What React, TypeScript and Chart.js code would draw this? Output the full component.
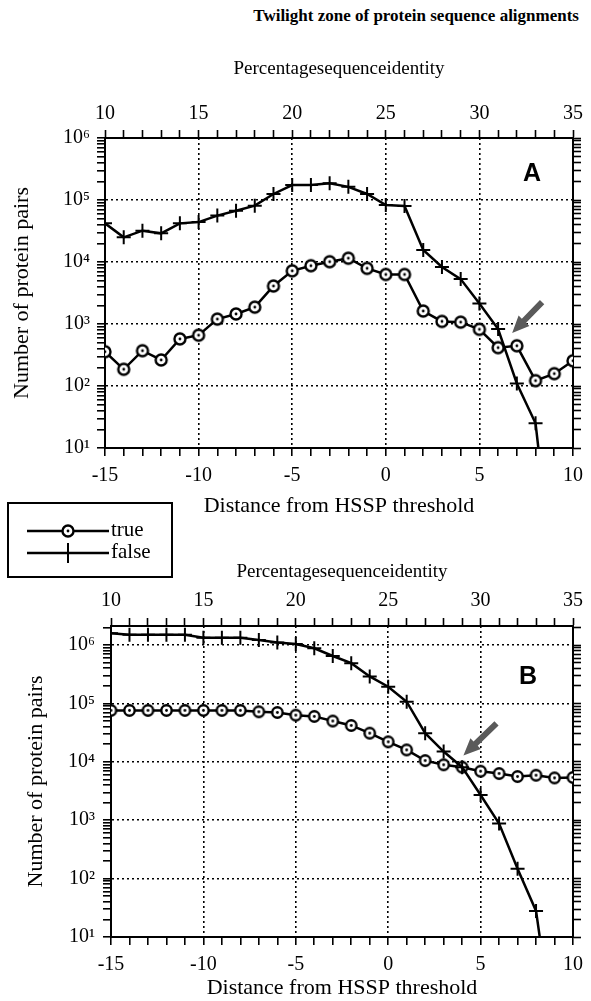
import React, { useEffect, useRef } from "react";
import { Chart, registerables } from "chart.js";

Chart.register(...registerables);

// ---------- data ----------
const distance = [-15, -14, -13, -12, -11, -10, -9, -8, -7, -6, -5, -4, -3, -2, -1, 0, 1, 2, 3, 4, 5, 6, 7, 8, 9, 10];

const trueA = [357, 186, 371, 263, 575, 660, 1200, 1450, 1870, 4100, 7200, 8700, 10100, 11500, 7900, 6300, 6300, 1620, 1100, 1070, 820, 415, 445, 122, 158, 255];
const falseDistA = [-15, -14, -13, -12, -11, -10, -9, -8, -7, -6, -5, -4, -3, -2, -1, 0, 1, 2, 3, 4, 5, 6, 7, 8, 8.15];
const falseA = [42000, 25000, 32000, 29000, 42000, 44000, 56000, 67000, 81000, 125000, 174000, 174000, 186000, 163000, 125000, 83000, 80000, 15600, 8300, 5300, 2150, 830, 110, 25, 10];

const trueB = [76000, 76000, 76000, 76000, 76000, 76000, 76000, 76000, 72000, 70000, 63000, 60000, 50000, 42000, 31000, 22000, 16000, 10500, 8900, 8100, 6900, 6300, 5600, 5900, 5300, 5400];
const falseDistB = [-15, -14, -13, -12, -11, -10, -9, -8, -7, -6, -5, -4, -3, -2, -1, 0, 1, 2, 3, 4, 5, 6, 7, 8, 8.2];
const falseB = [1600000, 1500000, 1500000, 1500000, 1500000, 1330000, 1330000, 1330000, 1220000, 1110000, 1040000, 880000, 650000, 490000, 290000, 193000, 107000, 31000, 15000, 8100, 2700, 880, 148, 28, 10];

const bottomTickLabels = [-15, -10, -5, 0, 5, 10];
const topTickLabels = [10, 15, 20, 25, 30, 35];
const yTickLabels = ["10¹", "10²", "10³", "10⁴", "10⁵", "10⁶"];
const seriesNames = ["true", "false"];

const mainTitle = "Twilight zone of protein sequence alignments";
const topAxisTitle = "Percentagesequenceidentity";
const bottomAxisTitle = "Distance from HSSP threshold";
const yAxisTitle = "Number of protein pairs";

const FONT = "Liberation Serif, Times New Roman, DejaVu Serif, serif";

function isMajorLog(v: number) {
  const e = Math.log10(v);
  return Math.abs(e - Math.round(e)) < 1e-6;
}
function yLabel(v: number) {
  if (!isMajorLog(v)) return "";
  const e = Math.round(Math.log10(v));
  return yTickLabels[e - 1] || "";
}
function logTicks(max: number) {
  const out: number[] = [];
  for (let e = 1; e <= 6; e++) {
    for (let s = 1; s <= 9; s++) {
      const v = s * Math.pow(10, e);
      if (v <= max + 1e-6) out.push(v);
    }
  }
  return out;
}

function makeCircle(r: number, lw: number) {
  const size = Math.ceil(2 * r + lw + 2);
  const c = document.createElement("canvas");
  c.width = size;
  c.height = size;
  const g = c.getContext("2d")!;
  g.beginPath();
  g.arc(size / 2, size / 2, r, 0, Math.PI * 2);
  g.fillStyle = "#fff";
  g.fill();
  g.lineWidth = lw;
  g.strokeStyle = "#000";
  g.stroke();
  g.beginPath();
  g.arc(size / 2, size / 2, 1.4, 0, Math.PI * 2);
  g.fillStyle = "#000";
  g.fill();
  return c;
}

type PanelCfg = {
  top: number;
  canvasH: number;
  trueY: number[];
  falseX: number[];
  falseY: number[];
  yMax: number;
  padding: { left: number; right: number; top: number; bottom: number };
  yWidth: number;
  yTitlePad: number;
  yTickPad: number;
  rightWidth: number;
  x2Height: number;
  x2TitlePad: number;
  x2TickPad: number;
  xHeight: number;
  xTickPad: number;
  circleR: number;
  letter: string;
  letterDX: number;
  letterDY: number;
  arrowTail: [number, number];
  arrowHead: [number, number];
  legend: boolean;
};

const panelA: PanelCfg = {
  top: 0,
  canvasH: 585,
  trueY: trueA,
  falseX: falseDistA,
  falseY: falseA,
  yMax: 1000000,
  padding: { left: 0, right: 0, top: 0, bottom: 66 },
  yWidth: 105,
  yTitlePad: 9,
  yTickPad: 7,
  rightWidth: 16,
  x2Height: 138,
  x2TitlePad: 58,
  x2TickPad: 4,
  xHeight: 71,
  xTickPad: 8,
  circleR: 5.5,
  letter: "A",
  letterDX: -41,
  letterDY: 36,
  arrowTail: [8.35, 2260],
  arrowHead: [6.75, 716],
  legend: true,
};

const panelB: PanelCfg = {
  top: 540,
  canvasH: 461,
  trueY: trueB,
  falseX: falseDistB,
  falseY: falseB,
  yMax: 2120000,
  padding: { left: 6, right: 0, top: 0, bottom: 0 },
  yWidth: 105,
  yTitlePad: 17,
  yTickPad: 8,
  rightWidth: 12,
  x2Height: 86,
  x2TitlePad: 21,
  x2TickPad: 5,
  xHeight: 64,
  xTickPad: 8,
  circleR: 5.2,
  letter: "B",
  letterDX: -45,
  letterDY: 51,
  arrowTail: [5.86, 45700],
  arrowHead: [4.07, 12900],
  legend: false,
};

function drawArrow(ctx: CanvasRenderingContext2D, tx: number, ty: number, hx: number, hy: number) {
  const dx = hx - tx;
  const dy = hy - ty;
  const len = Math.hypot(dx, dy);
  const ux = dx / len;
  const uy = dy / len;
  const nx = -uy;
  const ny = ux;
  const headLen = 17;
  const headW = 15;
  const shaftW = 6;
  const bx = hx - ux * headLen;
  const by = hy - uy * headLen;
  ctx.save();
  ctx.fillStyle = "#5a5a5a";
  ctx.beginPath();
  ctx.moveTo(tx + nx * shaftW / 2, ty + ny * shaftW / 2);
  ctx.lineTo(bx + nx * shaftW / 2, by + ny * shaftW / 2);
  ctx.lineTo(bx + nx * headW / 2, by + ny * headW / 2);
  ctx.lineTo(hx, hy);
  ctx.lineTo(bx - nx * headW / 2, by - ny * headW / 2);
  ctx.lineTo(bx - nx * shaftW / 2, by - ny * shaftW / 2);
  ctx.lineTo(tx - nx * shaftW / 2, ty - ny * shaftW / 2);
  ctx.closePath();
  ctx.fill();
  ctx.restore();
}

function buildConfig(p: PanelCfg): any {
  const circle = makeCircle(p.circleR, 2.4);
  const legendCircle = makeCircle(5.5, 2.4);
  const lastFalse = p.falseX.length - 1;

  const overlay = {
    id: "overlay" + p.letter,
    afterDraw(chart: any) {
      const ctx: CanvasRenderingContext2D = chart.ctx;
      const area = chart.chartArea;
      const xs = chart.scales.x;
      const ys = chart.scales.y;
      ctx.save();
      ctx.fillStyle = "#000";
      ctx.font = "bold 25px Liberation Sans, Arial, sans-serif";
      ctx.textAlign = "center";
      ctx.textBaseline = "middle";
      ctx.fillText(p.letter, area.right + p.letterDX, area.top + p.letterDY);
      ctx.restore();
      drawArrow(
        ctx,
        xs.getPixelForValue(p.arrowTail[0]),
        ys.getPixelForValue(p.arrowTail[1]),
        xs.getPixelForValue(p.arrowHead[0]),
        ys.getPixelForValue(p.arrowHead[1])
      );
      if (p.legend) {
        ctx.save();
        ctx.strokeStyle = "#000";
        ctx.lineWidth = 2;
        ctx.strokeRect(8, 503, 164, 74);
        ctx.lineWidth = 2.5;
        ctx.beginPath();
        ctx.moveTo(27, 531);
        ctx.lineTo(109, 531);
        ctx.stroke();
        ctx.drawImage(legendCircle, 68 - legendCircle.width / 2, 531 - legendCircle.height / 2);
        ctx.beginPath();
        ctx.moveTo(27, 553);
        ctx.lineTo(109, 553);
        ctx.stroke();
        ctx.lineWidth = 2;
        ctx.beginPath();
        ctx.moveTo(68, 543);
        ctx.lineTo(68, 563);
        ctx.stroke();
        ctx.fillStyle = "#000";
        ctx.font = "21px " + FONT;
        ctx.textAlign = "left";
        ctx.textBaseline = "middle";
        ctx.fillText(seriesNames[0], 111, 530);
        ctx.fillText(seriesNames[1], 111, 552);
        ctx.restore();
      }
    },
  };

  const tickFont = { family: FONT, size: 20 };
  const titleFont = { family: FONT, size: 22 };
  const logTickList = logTicks(p.yMax);

  return {
    type: "line",
    data: {
      datasets: [
        {
          label: seriesNames[0],
          data: distance.map((x, i) => ({ x, y: p.trueY[i] })),
          borderColor: "#000",
          borderWidth: 2.5,
          pointStyle: circle,
          pointRadius: p.circleR + 1,
          tension: 0,
          order: 1,
          xAxisID: "x",
          yAxisID: "y",
        },
        {
          label: seriesNames[1],
          data: p.falseX.map((x, i) => ({ x, y: p.falseY[i] })),
          borderColor: "#000",
          borderWidth: 2.5,
          pointStyle: "cross",
          pointRadius: (c: any) => (c.dataIndex === lastFalse ? 0 : 7),
          pointBorderWidth: 2,
          pointBorderColor: "#000",
          tension: 0,
          order: 0,
          xAxisID: "x",
          yAxisID: "y",
        },
      ],
    },
    options: {
      responsive: false,
      animation: false,
      events: [],
      font: { family: FONT },
      layout: { padding: p.padding },
      plugins: {
        legend: { display: false },
        tooltip: { enabled: false },
        title: { display: false },
      },
      scales: {
        x: {
          type: "linear",
          position: "bottom",
          min: -15,
          max: 10,
          afterFit: (s: any) => {
            s.height = p.xHeight;
          },
          ticks: {
            stepSize: 1,
            autoSkip: false,
            maxRotation: 0,
            padding: p.xTickPad,
            font: tickFont,
            color: "#000",
            callback: (v: any) => (bottomTickLabels.includes(Number(v)) ? String(v) : ""),
          },
          grid: {
            color: (c: any) => (c.tick && bottomTickLabels.includes(c.tick.value) ? "#000" : "rgba(0,0,0,0)"),
            lineWidth: 1.6,
            tickColor: "#000",
            tickLength: 8,
            tickWidth: 1.6,
          },
          border: { color: "#000", width: 2, dash: [2, 3] },
          title: { display: true, text: bottomAxisTitle, font: titleFont, color: "#000", padding: { top: 0, bottom: 0 } },
        },
        x2: {
          type: "linear",
          position: "top",
          min: 10,
          max: 35,
          afterFit: (s: any) => {
            s.height = p.x2Height;
          },
          ticks: {
            stepSize: 1,
            autoSkip: false,
            maxRotation: 0,
            padding: p.x2TickPad,
            font: tickFont,
            color: "#000",
            callback: (v: any) => (topTickLabels.includes(Number(v)) ? String(v) : ""),
          },
          grid: {
            drawOnChartArea: false,
            tickColor: "#000",
            tickLength: 8,
            tickWidth: 1.6,
          },
          border: { color: "#000", width: 2 },
          title: { display: true, text: topAxisTitle, font: { family: FONT, size: 19 }, color: "#000", padding: { top: p.x2TitlePad, bottom: 0 } },
        },
        y: {
          type: "logarithmic",
          position: "left",
          min: 10,
          max: p.yMax,
          afterFit: (s: any) => {
            s.width = p.yWidth;
          },
          afterBuildTicks: (s: any) => {
            s.ticks = logTickList.map((v) => ({ value: v, major: isMajorLog(v) }));
          },
          ticks: {
            autoSkip: false,
            padding: p.yTickPad,
            font: tickFont,
            color: "#000",
            callback: (v: any) => yLabel(Number(v)),
          },
          grid: {
            color: (c: any) => (c.tick && isMajorLog(c.tick.value) ? "#000" : "rgba(0,0,0,0)"),
            lineWidth: 1.6,
            tickColor: "#000",
            tickLength: 8,
            tickWidth: 1.6,
          },
          border: { color: "#000", width: 2, dash: [2, 3] },
          title: { display: true, text: yAxisTitle, font: titleFont, color: "#000", padding: { top: p.yTitlePad, bottom: 0 } },
        },
        y2: {
          type: "logarithmic",
          position: "right",
          min: 10,
          max: p.yMax,
          afterFit: (s: any) => {
            s.width = p.rightWidth;
          },
          afterBuildTicks: (s: any) => {
            s.ticks = logTickList.map((v) => ({ value: v, major: isMajorLog(v) }));
          },
          ticks: {
            autoSkip: false,
            padding: 0,
            font: tickFont,
            callback: () => "",
          },
          grid: {
            drawOnChartArea: false,
            tickColor: "#000",
            tickLength: 8,
            tickWidth: 1.6,
          },
          border: { color: "#000", width: 2 },
        },
      },
    },
    plugins: [overlay],
  };
}

function Panel({ cfg }: { cfg: PanelCfg }) {
  const ref = useRef<HTMLCanvasElement>(null);
  useEffect(() => {
    if (!ref.current) return;
    const chart = new Chart(ref.current, buildConfig(cfg));
    let alive = true;
    const fonts: any = (document as any).fonts;
    if (fonts && fonts.load) {
      Promise.all([
        fonts.load("20px Liberation Serif"),
        fonts.load("bold 25px Liberation Sans"),
      ])
        .then(() => {
          if (alive) chart.update();
        })
        .catch(() => {});
    }
    return () => {
      alive = false;
      chart.destroy();
    };
  }, [cfg]);
  return (
    <canvas
      ref={ref}
      width={591}
      height={cfg.canvasH}
      style={{ position: "absolute", left: 0, top: cfg.top, width: 591, height: cfg.canvasH }}
    />
  );
}

export default function App() {
  return (
    <div style={{ position: "absolute", left: 0, top: 0, width: 591, height: 1001, background: "#fff", overflow: "hidden" }}>
      <div
        style={{
          position: "absolute",
          right: 12,
          top: 6,
          font: "bold 17px 'Liberation Serif', 'Times New Roman', serif",
          lineHeight: "20px",
          whiteSpace: "nowrap",
          color: "#000",
        }}
      >
        {mainTitle}
      </div>
      <Panel cfg={panelA} />
      <Panel cfg={panelB} />
    </div>
  );
}
